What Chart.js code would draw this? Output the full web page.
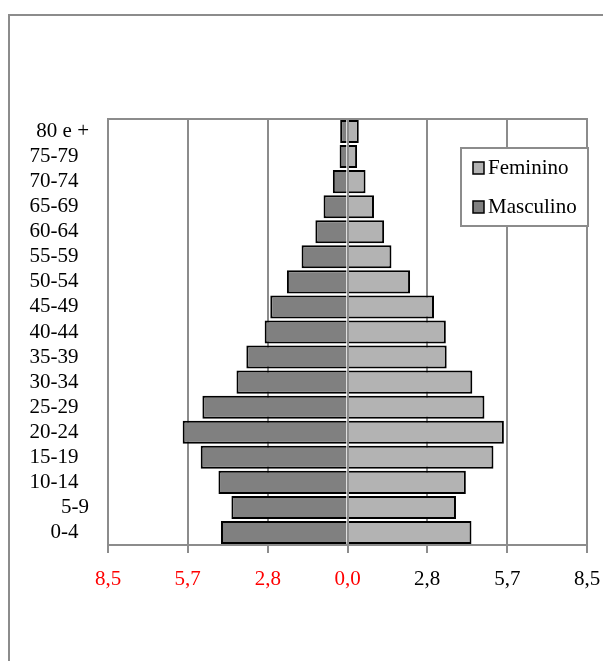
<!DOCTYPE html>
<html>
<head>
<meta charset="utf-8">
<title>Pirâmide etária</title>
<script src="https://cdn.jsdelivr.net/npm/chart.js@4.4.1/dist/chart.umd.min.js"></script>
<style>
  body { margin: 0; background: #fff; overflow: hidden; }
  #moldura {
    position: absolute; left: 8px; top: 14px; width: 700px; height: 700px;
    border-left: 2px solid #8c8c8c; border-top: 2px solid #8c8c8c;
  }
  #grafico { position: absolute; left: 0; top: 0; }
</style>
</head>
<body>
<div id="moldura"></div>
<canvas id="grafico" width="603" height="661"></canvas>
<script>
// faixas de baixo para cima (os espaços no fim alinham como na planilha)
const faixasEtarias = ['0-4  ', '5-9', '10-14  ', '15-19  ', '20-24  ', '25-29  ', '30-34  ', '35-39  ',
  '40-44  ', '45-49  ', '50-54  ', '55-59  ', '60-64  ', '65-69  ', '70-74  ', '75-79  ', '80 e +'];
const masculino = [-4.49, -4.12, -4.58, -5.21, -5.85, -5.15, -3.94, -3.59, -2.94, -2.74, -2.15, -1.63, -1.14, -0.85, -0.52, -0.28, -0.26];
const feminino = [4.40, 3.85, 4.20, 5.18, 5.55, 4.86, 4.43, 3.52, 3.49, 3.07, 2.22, 1.56, 1.30, 0.94, 0.64, 0.34, 0.40];
const valoresX = [-8.5, -5.67, -2.83, 0, 2.83, 5.67, 8.5];
const rotulosX = ['8,5', '5,7', '2,8', '0,0', '2,8', '5,7', '8,5'];

const cinzaGrade = '#8c8c8c';
const fonte = { family: "'Liberation Serif', 'Times New Roman', serif", size: 21 };

// moldura cinza em volta da área do gráfico + eixo do zero por cima das barras
const moldura = {
  id: 'moldura',
  beforeDatasetsDraw(chart) {
    const { ctx, chartArea: a } = chart;
    ctx.save();
    ctx.strokeStyle = cinzaGrade;
    ctx.lineWidth = 2;
    ctx.strokeRect(a.left, a.top, a.right - a.left, a.bottom - a.top);
    ctx.restore();
  },
  afterDatasetsDraw(chart) {
    const { ctx, chartArea: a } = chart;
    const x0 = Math.round(chart.scales.x.getPixelForValue(0));
    ctx.save();
    ctx.strokeStyle = cinzaGrade;
    ctx.lineWidth = 2;
    ctx.beginPath();
    ctx.moveTo(x0, a.top);
    ctx.lineTo(x0, a.bottom);
    ctx.stroke();
    ctx.restore();
  }
};

// legenda em caixa, dentro da área do gráfico
const legendaCaixa = {
  id: 'legendaCaixa',
  afterDraw(chart) {
    const { ctx, chartArea: a } = chart;
    const x = a.right - 126, y = a.top + 29, w = 127, h = 78;
    ctx.save();
    ctx.fillStyle = '#fff';
    ctx.fillRect(x, y, w, h);
    ctx.strokeStyle = cinzaGrade;
    ctx.lineWidth = 2;
    ctx.strokeRect(x, y, w, h);
    ctx.font = fonte.size + 'px ' + fonte.family;
    ctx.textBaseline = 'middle';
    chart.data.datasets.forEach((ds, i) => {
      const cy = y + 20 + i * 39;
      ctx.fillStyle = ds.backgroundColor;
      ctx.fillRect(x + 12, cy - 6, 11, 12);
      ctx.strokeStyle = '#000';
      ctx.lineWidth = 1.5;
      ctx.strokeRect(x + 12, cy - 6, 11, 12);
      ctx.fillStyle = '#000';
      ctx.fillText(ds.label, x + 27, cy);
    });
    ctx.restore();
  }
};

new Chart(document.getElementById('grafico'), {
  type: 'bar',
  data: {
    labels: faixasEtarias,
    datasets: [
      {
        label: 'Feminino',
        data: feminino,
        backgroundColor: '#b3b3b3',
        borderColor: '#000',
        borderWidth: 2,
        borderSkipped: 'start'
      },
      {
        label: 'Masculino',
        data: masculino,
        backgroundColor: '#808080',
        borderColor: '#000',
        borderWidth: 2,
        borderSkipped: 'start'
      }
    ]
  },
  options: {
    responsive: false,
    animation: false,
    indexAxis: 'y',
    categoryPercentage: 0.92,
    barPercentage: 1,
    layout: { padding: { left: 0, top: 119, right: 16, bottom: 0 } },
    plugins: {
      legend: { display: false },
      tooltip: { enabled: false }
    },
    scales: {
      x: {
        stacked: true,
        min: -8.5,
        max: 8.5,
        afterBuildTicks: scale => { scale.ticks = valoresX.map(v => ({ value: v })); },
        afterFit: scale => {
          scale.height = 116;
          scale.paddingLeft = 0;
          scale.paddingRight = 0;
        },
        border: { display: false },
        grid: { color: cinzaGrade, lineWidth: 2, drawTicks: true, tickLength: 8 },
        ticks: {
          font: fonte,
          padding: 14,
          maxRotation: 0,
          color: c => (c.tick && c.tick.value <= 0 ? '#ff0000' : '#000'),
          callback: (v, i) => rotulosX[i]
        }
      },
      y: {
        stacked: true,
        reverse: true,
        afterFit: scale => { scale.width = 108; },
        border: { display: false },
        grid: { display: false, drawTicks: false },
        ticks: { font: fonte, color: '#000', padding: 19, autoSkip: false }
      }
    }
  },
  plugins: [moldura, legendaCaixa]
});
</script>
</body>
</html>
